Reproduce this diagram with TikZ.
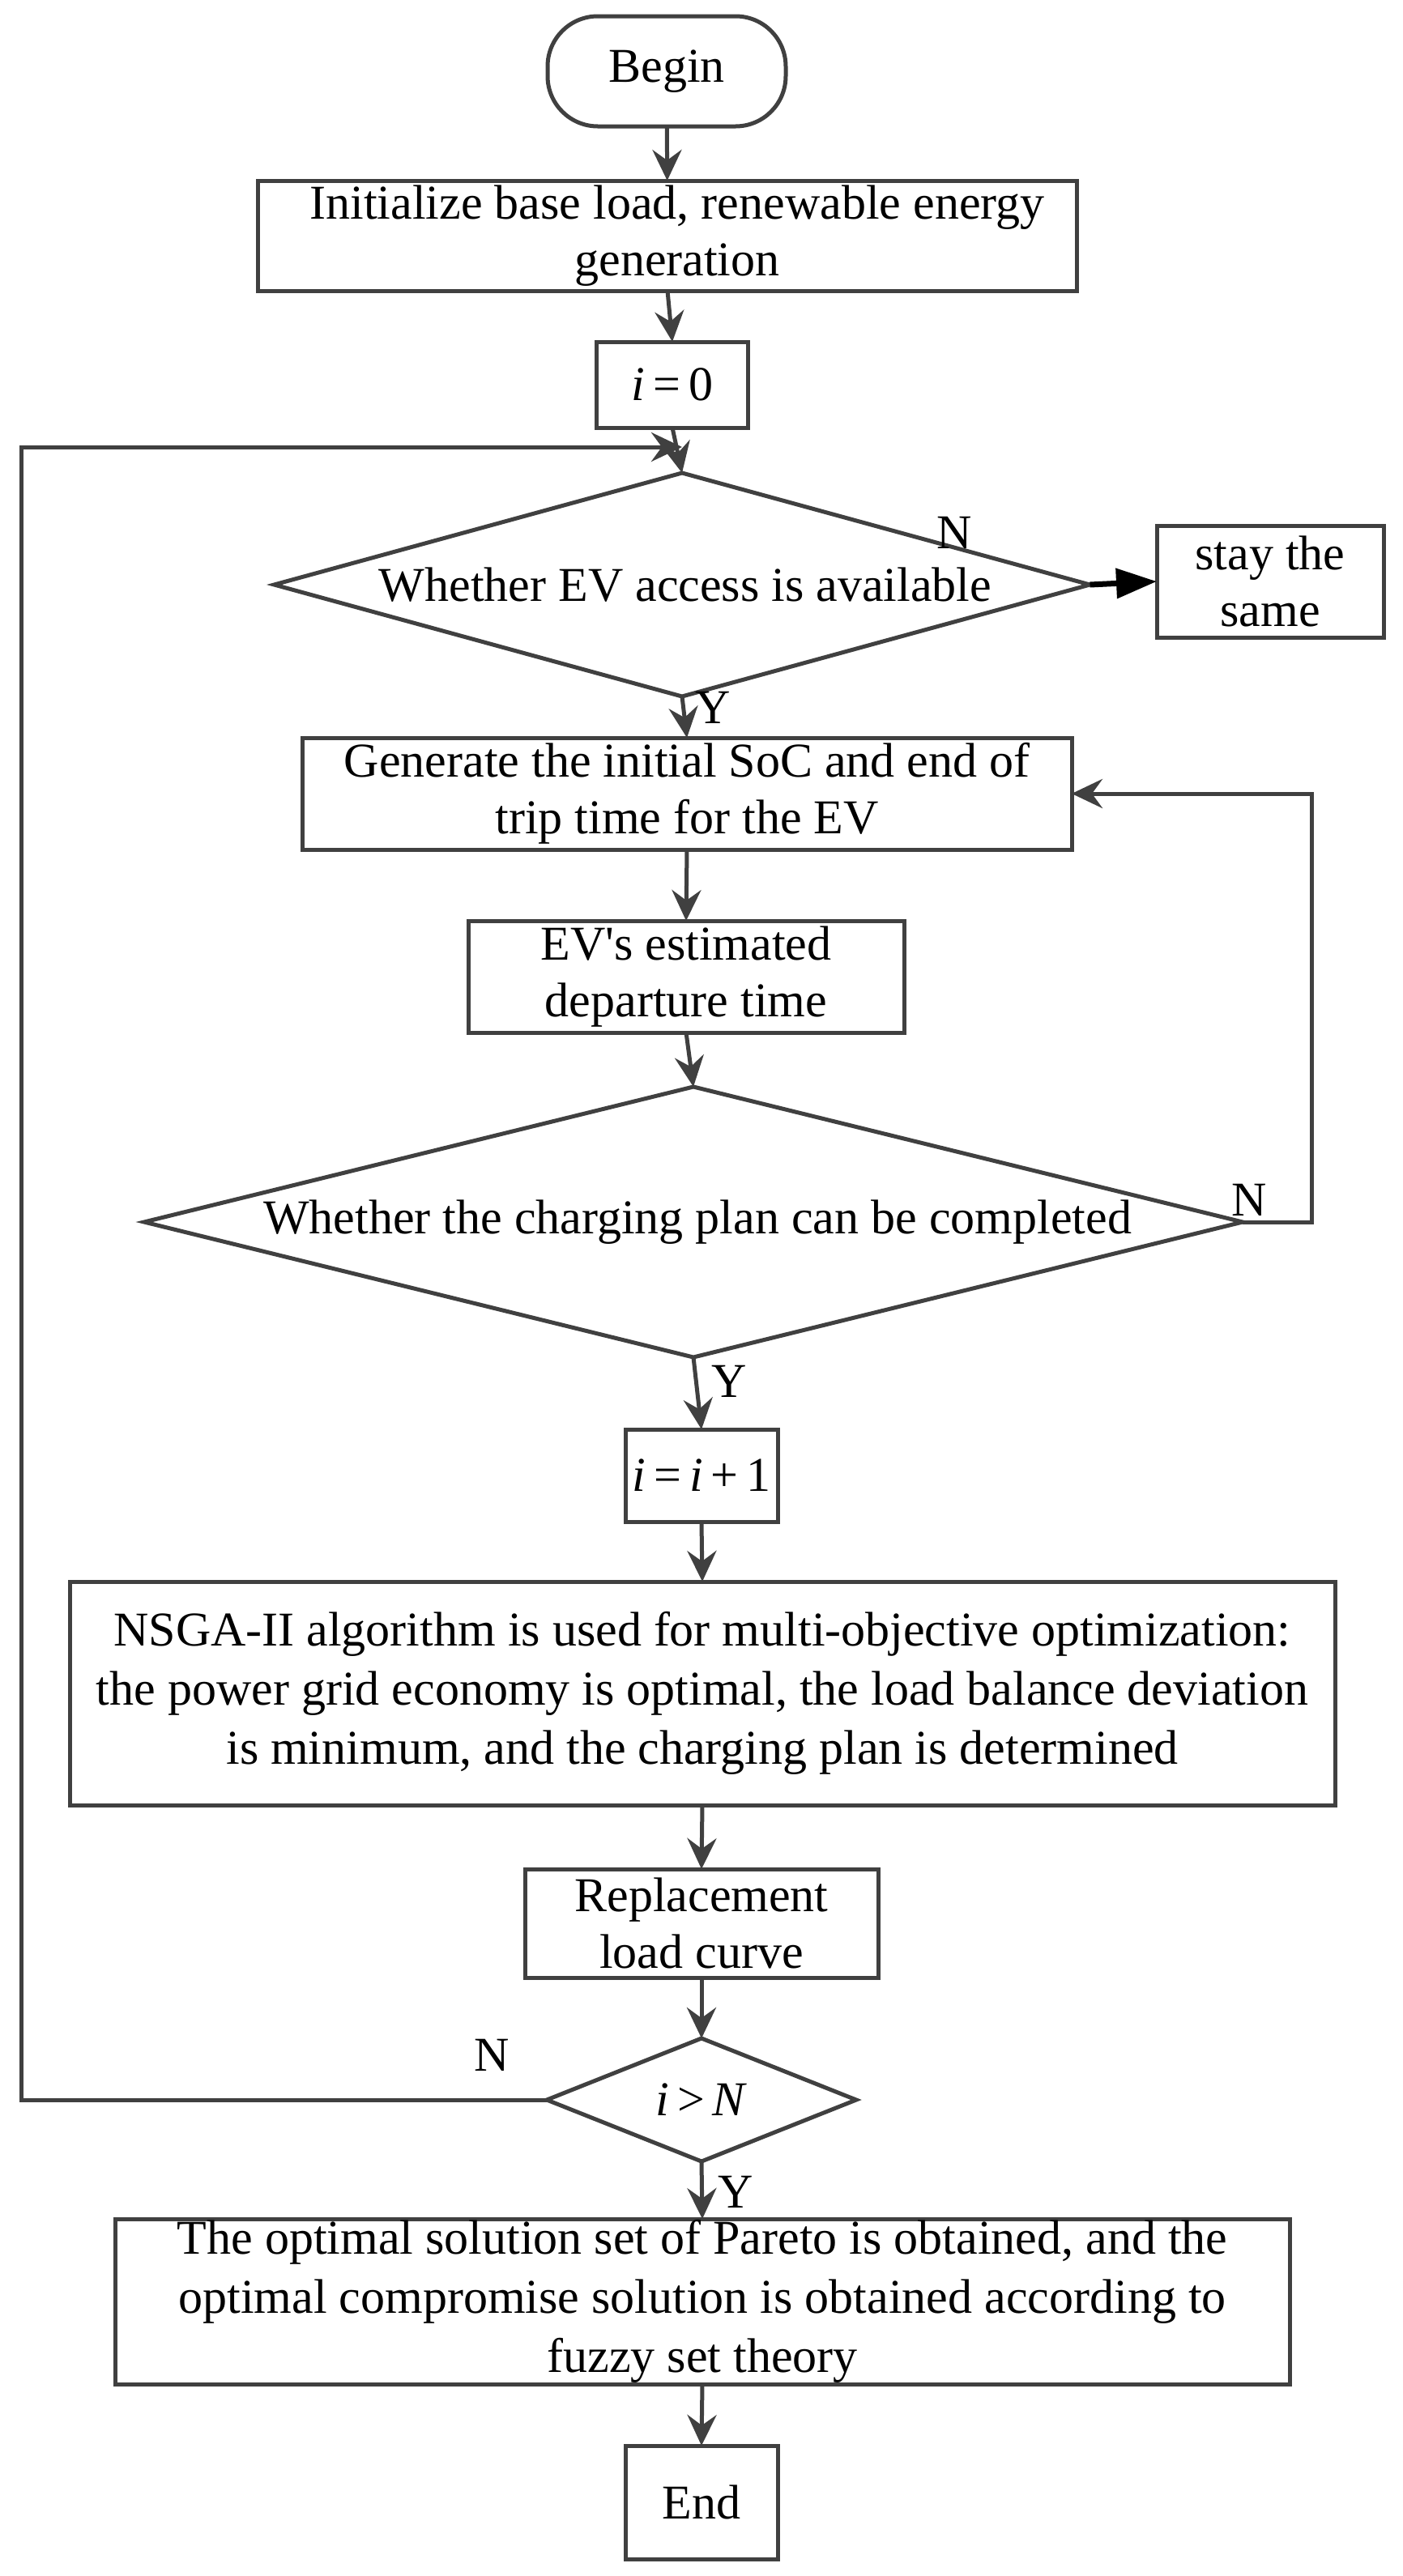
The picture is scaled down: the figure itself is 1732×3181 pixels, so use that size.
\documentclass[tikz,border=0pt]{standalone}
\usepackage{fontspec}
\setmainfont{Liberation Serif}
\usetikzlibrary{shapes.geometric,arrows.meta}
\definecolor{ln}{HTML}{404040}
\tikzset{
  base/.style={draw=ln, line width=5pt, inner sep=0pt, outer sep=0pt, align=center,
    font=\fontsize{60}{70}\selectfont, text=black},
  box/.style={base, rectangle},
  dia/.style={draw=ln, line width=5pt, diamond, inner sep=0pt, outer sep=0pt},
  txt/.style={inner sep=0pt, align=center, font=\fontsize{60}{70}\selectfont, text=black},
  arr/.style={draw=ln, line width=5pt, -{Stealth[length=38pt,width=36pt,inset=13pt]}},
  blk/.style={draw=black, line width=7pt, -{Triangle[length=50pt,width=36pt]}},
}
\begin{document}
\begin{tikzpicture}[x=1pt,y=-1pt]
\useasboundingbox (0,0) rectangle (1732,3181);
\fill[white] (0,0) rectangle (1732,3181);

\node[box, rounded corners=62pt, minimum width=294pt, minimum height=136pt] (begin) at (823,88) {Begin};
\node[box, minimum width=1011pt, minimum height=136pt] (init) at (824,291) {\hspace*{24pt}Initialize base load, renewable energy\\\hspace*{24pt}generation};
\node[box, minimum width=187pt, minimum height=106pt] (i0) at (830,475) {\textit{i}\,=\,0};

\node[dia, minimum width=1007pt, minimum height=276pt] (d1) at (842,722) {};
\node[txt] (d1t) at (846,722) {Whether EV access is available};
\node[box, minimum width=280pt, minimum height=138pt] (stay) at (1568,718) {stay the\\same};

\node[box, minimum width=950pt, minimum height=138pt] (gen) at (848,980) {Generate the initial SoC and end of\\trip time for the EV};
\node[box, minimum width=538pt, minimum height=138pt] (ev) at (847,1206) {EV\textquotesingle s estimated\\departure time};

\node[dia, minimum width=1356pt, minimum height=334pt] (d2) at (856,1509) {};
\node[txt] (d2t) at (861,1509) {Whether the charging plan can be completed};

\node[box, minimum width=188pt, minimum height=114pt] (ip1) at (866,1822) {\textit{i}\,=\,\textit{i}\,+\,1};

\node[box, minimum width=1562pt, minimum height=276pt, font=\fontsize{60}{73}\selectfont] (nsga) at (867,2091) {NSGA-II algorithm is used for multi-objective optimization:\\the power grid economy is optimal, the load balance deviation\\is minimum, and the charging plan is determined};

\node[box, minimum width=436pt, minimum height=134pt] (repl) at (866,2375) {Replacement\\load curve};

\node[dia, minimum width=382pt, minimum height=152pt] (d3) at (866,2593) {};
\node[txt] (d3t) at (866,2593) {\textit{i}\,>\,\textit{N}};

\node[box, minimum width=1450pt, minimum height=204pt, font=\fontsize{60}{73}\selectfont] (final) at (867,2842) {The optimal solution set of Pareto is obtained, and the\\optimal compromise solution is obtained according to\\fuzzy set theory};

\node[box, minimum width=188pt, minimum height=140pt] (end) at (866,3090) {End};

% labels
\node[txt] (n1) at (1178,658) {N};
\node[txt] (y1) at (880,874) {Y};
\node[txt] (n2) at (1542,1482) {N};
\node[txt] (y2) at (900,1706) {Y};
\node[txt] (n3) at (607,2538) {N};
\node[txt] (y3) at (908,2707) {Y};

% helper coordinates
\coordinate (join) at (842,552);
\coordinate (lcorner) at (26,552);
\coordinate (rloop) at (1619,980);

% connectors
\draw[arr] (begin) -- (init);
\draw[arr] (init.south) -- (i0.north);
\draw[arr] (i0.south) -- (d1.north);
\draw[arr] (d3.west) -| (lcorner) -- (join);
\draw[blk] (d1.east) -- (stay.west);
\draw[arr] (d1.south) -- (gen.north);
\draw[arr] (gen.south) -- (ev.north);
\draw[arr] (ev.south) -- (d2.north);
\draw[arr] (d2.east) -| (rloop) -- (gen.east);
\draw[arr] (d2.south) -- (ip1.north);
\draw[arr] (ip1.south) -- (nsga.north);
\draw[arr] (nsga.south) -- (repl.north);
\draw[arr] (repl.south) -- (d3.north);
\draw[arr] (d3.south) -- (final.north);
\draw[arr] (final.south) -- (end.north);
\end{tikzpicture}
\end{document}
